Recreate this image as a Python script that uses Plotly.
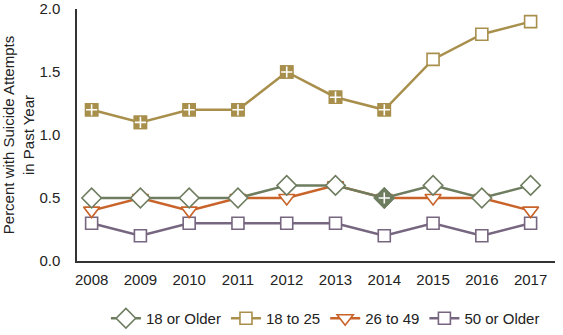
import plotly.graph_objects as go

years = [2008, 2009, 2010, 2011, 2012, 2013, 2014, 2015, 2016, 2017]
older18 = [0.5, 0.5, 0.5, 0.5, 0.6, 0.6, 0.5, 0.6, 0.5, 0.6]
age18_25 = [1.2, 1.1, 1.2, 1.2, 1.5, 1.3, 1.2, 1.6, 1.8, 1.9]
age26_49 = [0.4, 0.5, 0.4, 0.5, 0.5, 0.6, 0.5, 0.5, 0.5, 0.4]
older50 = [0.3, 0.2, 0.3, 0.3, 0.3, 0.3, 0.2, 0.3, 0.2, 0.3]
# years where the estimate differs significantly from 2017 (filled "+" markers)
sig_older18 = [2014]
sig_18_25 = [2008, 2009, 2010, 2011, 2012, 2013, 2014]
sig_26_49 = []
sig_older50 = []

FONT = "Liberation Sans, Arial, sans-serif"

series = [
    ("50 or Older", older50, sig_older50, "#76667F", "square", 12, 4),
    ("26 to 49", age26_49, sig_26_49, "#C8632A", "triangle-down", 14, 3),
    ("18 to 25", age18_25, sig_18_25, "#A88F4C", "square", 12, 2),
    ("18 or Older", older18, sig_older18, "#6E7D60", "diamond", 15, 1),
]

fig = go.Figure()
for name, vals, sig, color, sym, size, rank in series:
    fig.add_trace(go.Scatter(
        x=years, y=vals, name=name, mode="lines+markers",
        line=dict(color=color, width=2.5),
        marker=dict(symbol=sym, size=size, color="white",
                    line=dict(color=color, width=1.6)),
        legendrank=rank,
    ))
    if sig:
        sy = [vals[years.index(y)] for y in sig]
        fig.add_trace(go.Scatter(
            x=sig, y=sy, mode="markers", showlegend=False, hoverinfo="skip",
            marker=dict(symbol=sym, size=size, color=color,
                        line=dict(color=color, width=1.6)),
        ))
        fig.add_trace(go.Scatter(
            x=sig, y=sy, mode="markers", showlegend=False, hoverinfo="skip",
            marker=dict(symbol="cross-thin", size=8,
                        line=dict(color="white", width=1.6)),
        ))

fig.update_layout(
    width=563, height=335,
    margin=dict(l=77, r=8, t=9, b=74),
    plot_bgcolor="white", paper_bgcolor="white",
    font=dict(family=FONT, size=15, color="#222222"),
    showlegend=True,
    legend=dict(orientation="h", x=0.578, xanchor="center", xref="container",
                y=0.0, yanchor="bottom", yref="container",
                font=dict(size=15), itemwidth=30, tracegroupgap=0),
    xaxis=dict(range=[2007.7, 2017.5], tickmode="array", tickvals=years,
               ticktext=[str(y) for y in years], showgrid=False, zeroline=False,
               showline=True, linecolor="#333333", linewidth=1.5, ticks="",
               tickfont=dict(size=15), ticklabelstandoff=4, automargin=False),
    yaxis=dict(range=[0, 2.0], tickvals=[0, 0.5, 1.0, 1.5, 2.0],
               ticktext=["0.0", "0.5", "1.0", "1.5", "2.0"], showgrid=False,
               zeroline=False, showline=True, linecolor="#333333", linewidth=1.5,
               ticks="", tickfont=dict(size=15), ticklabelstandoff=12,
               automargin=False,
               title=dict(text="Percent with Suicide Attempts<br>in Past Year",
                          font=dict(size=15), standoff=4)),
)

fig.write_html("out.html")
